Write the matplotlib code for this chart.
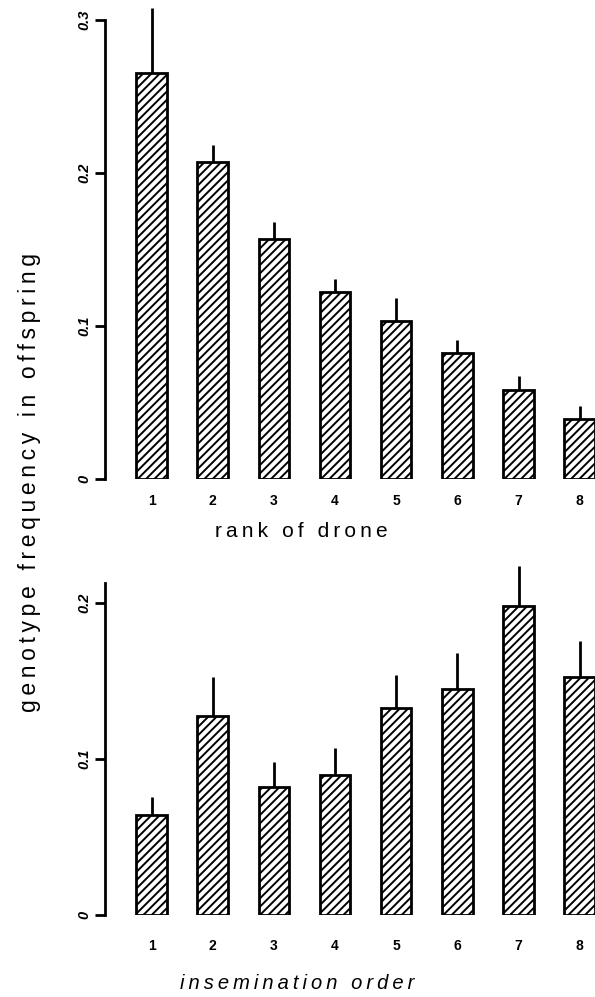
import numpy as np
import matplotlib
matplotlib.use("Agg")
import matplotlib.pyplot as plt

# rang der drohne
rank = [1, 2, 3, 4, 5, 6, 7, 8]
freq_rank = [0.265, 0.207, 0.157, 0.122, 0.103, 0.082, 0.058, 0.039]
err_rank = [0.043, 0.011, 0.011, 0.009, 0.015, 0.009, 0.009, 0.009]

# besamungsreihenfolge
order = [1, 2, 3, 4, 5, 6, 7, 8]
freq_order = [0.064, 0.128, 0.082, 0.090, 0.133, 0.145, 0.198, 0.153]
err_order = [0.012, 0.025, 0.016, 0.017, 0.021, 0.023, 0.026, 0.023]

plt.rcParams['font.family'] = ['Liberation Sans', 'DejaVu Sans']
plt.rcParams['hatch.linewidth'] = 1.4

fig = plt.figure(figsize=(5.95, 9.97), dpi=100)
ax1 = fig.add_axes([0.1765, 0.5196, 0.8235, 0.4604])
ax2 = fig.add_axes([0.1765, 0.0822, 0.8235, 0.3330])


def spaced(s):
    # buchstaben etwas auseinander ziehen
    return '\u2009'.join(s)


def panel(ax, x, y, e, ylim, yticks, yticklabels, pad):
    ax.bar(x, y, width=0.5, color='white', edgecolor='black', linewidth=2,
           hatch='////')
    y = np.array(y)
    ax.vlines(x, y, y + np.array(e), color='black', linewidth=2, clip_on=False)
    ax.set_xlim(0.24, 8.25)
    ax.set_ylim(*ylim)
    ax.set_yticks(yticks)
    ax.set_yticklabels(yticklabels, rotation=90, va='center', fontsize=10.5,
                       fontweight='bold', fontstyle='italic')
    ax.set_xticks(x)
    ax.set_xticklabels([str(i) for i in x], fontsize=10, fontweight='bold')
    ax.tick_params(axis='x', length=0, pad=pad)
    ax.tick_params(axis='y', length=7, width=2, direction='out', pad=3)
    for s in ['top', 'right', 'bottom']:
        ax.spines[s].set_visible(False)
    ax.spines['left'].set_linewidth(2)


panel(ax1, rank, freq_rank, err_rank, (0, 0.3), [0, 0.1, 0.2, 0.3],
      ['0', '0.1', '0.2', '0.3'], 11)
panel(ax2, order, freq_order, err_order, (0, 0.213), [0, 0.1, 0.2],
      ['0', '0.1', '0.2'], 17)

fig.text(0.506, 0.4674, spaced('rank of drone'), fontsize=15,
         ha='center', va='center')
fig.text(0.50, 0.0135, spaced('insemination order'), fontsize=14.5,
         fontstyle='italic', ha='center', va='center')

fig.text(0.05, 0.5165, spaced('genotype frequency in offspring'), rotation=90,
         fontsize=16.5, ha='center', va='center')

fig.savefig('out.png', dpi=100)
